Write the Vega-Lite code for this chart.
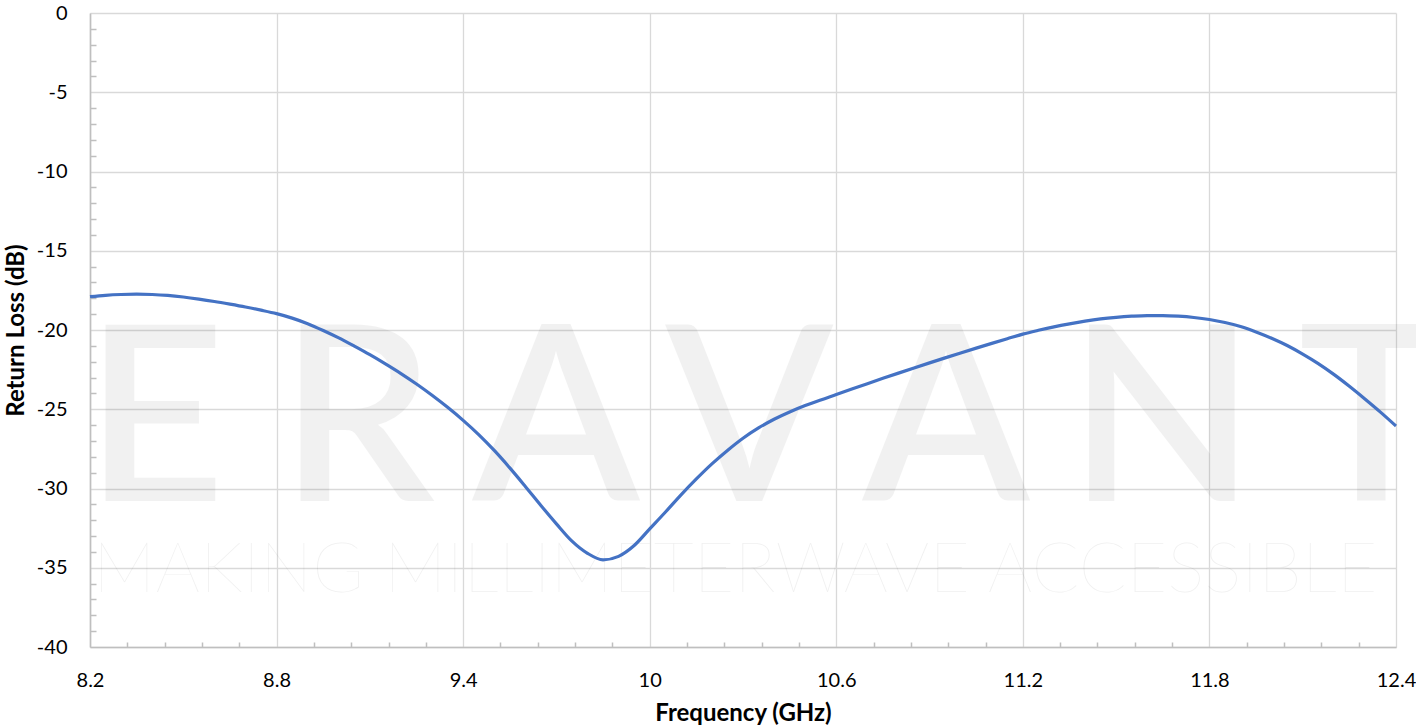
{
  "$schema": "https://vega.github.io/schema/vega-lite/v6.json",
  "width": 1306,
  "height": 634,
  "autosize": "none",
  "padding": {"left": 90, "top": 13, "right": 20, "bottom": 78},
  "background": "white",
  "config": {
    "view": {"stroke": null},
    "font": "Lato",
    "axis": {"labelFont": "Lato", "titleFont": "Lato", "labelColor": "#000000", "titleColor": "#000000"}
  },
  "datasets": {
    "curve": [
      {"f": 8.2, "rl": -17.9}, {"f": 8.25, "rl": -17.81}, {"f": 8.3, "rl": -17.76}, {"f": 8.35, "rl": -17.74},
      {"f": 8.4, "rl": -17.76}, {"f": 8.45, "rl": -17.82}, {"f": 8.5, "rl": -17.92}, {"f": 8.55, "rl": -18.05},
      {"f": 8.6, "rl": -18.2}, {"f": 8.65, "rl": -18.37}, {"f": 8.7, "rl": -18.55}, {"f": 8.75, "rl": -18.75},
      {"f": 8.8, "rl": -18.97}, {"f": 8.85, "rl": -19.25}, {"f": 8.9, "rl": -19.6}, {"f": 8.95, "rl": -20.03},
      {"f": 9.0, "rl": -20.5}, {"f": 9.05, "rl": -21.02}, {"f": 9.1, "rl": -21.56}, {"f": 9.15, "rl": -22.14},
      {"f": 9.2, "rl": -22.75}, {"f": 9.25, "rl": -23.41}, {"f": 9.3, "rl": -24.12}, {"f": 9.35, "rl": -24.88},
      {"f": 9.4, "rl": -25.7}, {"f": 9.45, "rl": -26.6}, {"f": 9.5, "rl": -27.6}, {"f": 9.55, "rl": -28.7},
      {"f": 9.6, "rl": -29.87}, {"f": 9.65, "rl": -31.07}, {"f": 9.7, "rl": -32.23}, {"f": 9.75, "rl": -33.32},
      {"f": 9.8, "rl": -34.09}, {"f": 9.85, "rl": -34.5}, {"f": 9.9, "rl": -34.28}, {"f": 9.95, "rl": -33.6},
      {"f": 10.0, "rl": -32.55}, {"f": 10.05, "rl": -31.5}, {"f": 10.1, "rl": -30.42}, {"f": 10.15, "rl": -29.4},
      {"f": 10.2, "rl": -28.45}, {"f": 10.25, "rl": -27.6}, {"f": 10.3, "rl": -26.83}, {"f": 10.35, "rl": -26.18},
      {"f": 10.4, "rl": -25.63}, {"f": 10.45, "rl": -25.17}, {"f": 10.5, "rl": -24.77}, {"f": 10.55, "rl": -24.41},
      {"f": 10.6, "rl": -24.07}, {"f": 10.65, "rl": -23.725}, {"f": 10.7, "rl": -23.385}, {"f": 10.75, "rl": -23.05},
      {"f": 10.8, "rl": -22.72}, {"f": 10.85, "rl": -22.395}, {"f": 10.9, "rl": -22.075}, {"f": 10.95, "rl": -21.76},
      {"f": 11.0, "rl": -21.45}, {"f": 11.05, "rl": -21.145}, {"f": 11.1, "rl": -20.845}, {"f": 11.15, "rl": -20.55},
      {"f": 11.2, "rl": -20.26}, {"f": 11.25, "rl": -20.02}, {"f": 11.3, "rl": -19.8}, {"f": 11.35, "rl": -19.61},
      {"f": 11.4, "rl": -19.44}, {"f": 11.45, "rl": -19.3}, {"f": 11.5, "rl": -19.2}, {"f": 11.55, "rl": -19.13},
      {"f": 11.6, "rl": -19.09}, {"f": 11.65, "rl": -19.09}, {"f": 11.7, "rl": -19.13}, {"f": 11.75, "rl": -19.21},
      {"f": 11.8, "rl": -19.34}, {"f": 11.85, "rl": -19.53}, {"f": 11.9, "rl": -19.78}, {"f": 11.95, "rl": -20.12},
      {"f": 12.0, "rl": -20.52}, {"f": 12.05, "rl": -20.98}, {"f": 12.1, "rl": -21.52}, {"f": 12.15, "rl": -22.12},
      {"f": 12.2, "rl": -22.8}, {"f": 12.25, "rl": -23.55}, {"f": 12.3, "rl": -24.35}, {"f": 12.35, "rl": -25.18},
      {"f": 12.4, "rl": -26.06}
    ],
    "letters": [
      {"letter": "E", "f": 8.409}, {"letter": "R", "f": 9.059}, {"letter": "A", "f": 9.699},
      {"letter": "V", "f": 10.32}, {"letter": "A", "f": 10.953}, {"letter": "N", "f": 11.647},
      {"letter": "T", "f": 12.32}
    ]
  },
  "resolve": {"axis": {"x": "independent", "y": "independent"}},
  "layer": [
    {
      "data": {"name": "letters"},
      "mark": {"type": "text", "font": "Lato", "fontSize": 244, "fontWeight": 600, "color": "#000000", "opacity": 0.05, "align": "center", "baseline": "alphabetic"},
      "encoding": {
        "x": {"field": "f", "type": "quantitative", "scale": {"domain": [8.2, 12.4], "nice": false, "zero": false}, "axis": null},
        "y": {"datum": -30.77, "type": "quantitative", "scale": {"domain": [-40, 0], "nice": false, "zero": false}, "axis": null},
        "text": {"field": "letter"}
      }
    },
    {
      "data": {"values": [{"tag": "MAKING MILLIMETERWAVE ACCESSIBLE"}]},
      "mark": {"type": "text", "font": "Lato", "fontSize": 70, "fontWeight": 100, "color": "#000000", "opacity": 0.06, "align": "left", "baseline": "alphabetic"},
      "encoding": {
        "x": {"datum": 8.21, "type": "quantitative", "scale": {"domain": [8.2, 12.4], "nice": false, "zero": false}, "axis": null},
        "y": {"datum": -36.5, "type": "quantitative", "scale": {"domain": [-40, 0], "nice": false, "zero": false}, "axis": null},
        "text": {"field": "tag"}
      }
    },
    {
      "data": {"name": "curve"},
      "mark": {"type": "line", "strokeOpacity": 0},
      "encoding": {
        "x": {"field": "f", "type": "quantitative", "scale": {"domain": [8.2, 12.4], "nice": false, "zero": false},
          "axis": {"orient": "bottom", "values": [8.32, 8.44, 8.56, 8.68, 8.92, 9.04, 9.16, 9.28, 9.52, 9.64, 9.76, 9.88, 10.12, 10.24, 10.36, 10.48, 10.72, 10.84, 10.96, 11.08, 11.32, 11.44, 11.56, 11.68, 11.92, 12.04, 12.16, 12.28],
            "labels": false, "grid": false, "domain": false, "ticks": true, "tickSize": 5, "offset": -5, "tickColor": "#bfbfbf", "tickWidth": 1.5, "title": null}},
        "y": {"field": "rl", "type": "quantitative", "scale": {"domain": [-40, 0], "nice": false, "zero": false},
          "axis": {"orient": "left", "values": [-39, -38, -37, -36, -34, -33, -32, -31, -29, -28, -27, -26, -24, -23, -22, -21, -19, -18, -17, -16, -14, -13, -12, -11, -9, -8, -7, -6, -4, -3, -2, -1],
            "labels": false, "grid": false, "domain": false, "ticks": true, "tickSize": 6, "offset": -6, "tickColor": "#bfbfbf", "tickWidth": 1.5, "title": null}}
      }
    },
    {
      "data": {"name": "curve"},
      "mark": {"type": "line", "color": "#4472C4", "strokeWidth": 3.2, "interpolate": "monotone"},
      "encoding": {
        "x": {"field": "f", "type": "quantitative", "scale": {"domain": [8.2, 12.4], "nice": false, "zero": false},
          "axis": {"orient": "bottom", "values": [8.2, 8.8, 9.4, 10, 10.6, 11.2, 11.8, 12.4], "labelExpr": "datum.value + ''",
            "grid": true, "gridColor": "#d9d9d9", "gridWidth": 1.3, "domain": true, "domainColor": "#bfbfbf", "domainWidth": 1.6,
            "ticks": false, "labelPadding": 23, "labelFontSize": 20, "labelFlush": false, "labelOverlap": false,
            "title": "Frequency (GHz)", "titleFontSize": 24, "titleFontWeight": "bold", "titlePadding": 11}},
        "y": {"field": "rl", "type": "quantitative", "scale": {"domain": [-40, 0], "nice": false, "zero": false},
          "axis": {"orient": "left", "values": [-40, -35, -30, -25, -20, -15, -10, -5, 0], "labelExpr": "datum.value + ''",
            "grid": true, "gridColor": "#d9d9d9", "gridWidth": 1.3, "domain": true, "domainColor": "#bfbfbf", "domainWidth": 1.6,
            "ticks": false, "labelPadding": 23, "labelFontSize": 20, "labelFlush": false, "labelOverlap": false,
            "title": "Return Loss (dB)", "titleFontSize": 24, "titleFontWeight": "bold", "titlePadding": 8}}
      }
    }
  ]
}
